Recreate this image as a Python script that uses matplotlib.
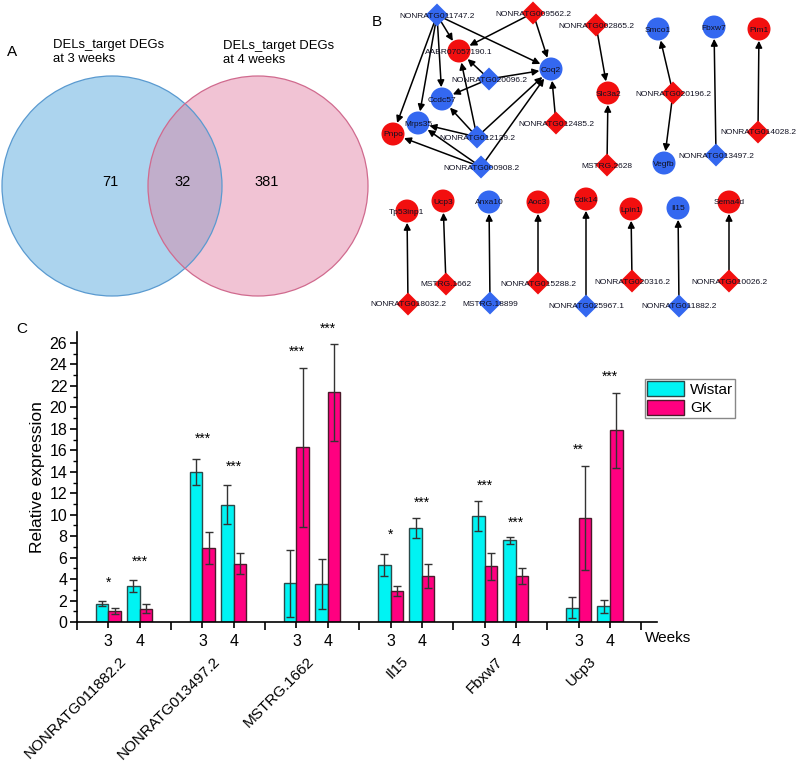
import matplotlib
matplotlib.use('Agg')
import matplotlib.pyplot as plt
from matplotlib.patches import Circle, RegularPolygon, FancyArrowPatch, Patch

plt.rcParams['font.family'] = ['Liberation Sans', 'DejaVu Sans']

# ---- panel A: venn counts
venn_labels = ['DELs_target DEGs\nat 3 weeks', 'DELs_target DEGs\nat 4 weeks']
venn_counts = [71, 32, 381]   # only 3w, both, only 4w

# ---- panel B: network (type, colour, x, y in pixel layout)
net_nodes = {
    'NONRATG011747.2': ('lnc', 'blue', 437, 15),
    'NONRATG009562.2': ('lnc', 'red', 533, 13),
    'AABR07057190.1': ('gene', 'red', 459, 51),
    'Coq2': ('gene', 'blue', 551, 69),
    'NONRATG020096.2': ('lnc', 'blue', 489, 79),
    'Ccdc57': ('gene', 'blue', 442, 99),
    'Mrps35': ('gene', 'blue', 418, 123),
    'Pnpo': ('gene', 'red', 393, 134),
    'NONRATG012139.2': ('lnc', 'blue', 477, 137),
    'NONRATG012485.2': ('lnc', 'red', 556, 123),
    'NONRATG000908.2': ('lnc', 'blue', 481, 167),
    'NONRATG002865.2': ('lnc', 'red', 596, 25),
    'Slc3a2': ('gene', 'red', 608, 93),
    'MSTRG.2628': ('lnc', 'red', 607, 165),
    'Smco1': ('gene', 'blue', 658, 29),
    'NONRATG020196.2': ('lnc', 'red', 673, 93),
    'Vegfb': ('gene', 'blue', 664, 163),
    'Fbxw7': ('gene', 'blue', 714, 27),
    'NONRATG013497.2': ('lnc', 'blue', 716, 155),
    'Pim1': ('gene', 'red', 759, 29),
    'NONRATG014028.2': ('lnc', 'red', 758, 132),
    'Tp53inp1': ('gene', 'red', 407, 211),
    'NONRATG018032.2': ('lnc', 'red', 408, 304),
    'Ucp3': ('gene', 'red', 443, 201),
    'MSTRG.1662': ('lnc', 'red', 446, 284),
    'Anxa10': ('gene', 'blue', 489, 202),
    'MSTRG.18899': ('lnc', 'blue', 490, 303),
    'Aoc3': ('gene', 'red', 538, 202),
    'NONRATG015288.2': ('lnc', 'red', 538, 283),
    'Cdk14': ('gene', 'red', 586, 199),
    'NONRATG025967.1': ('lnc', 'blue', 586, 306),
    'Lpin1': ('gene', 'red', 631, 209),
    'NONRATG020316.2': ('lnc', 'red', 632, 281),
    'Il15': ('gene', 'blue', 678, 208),
    'NONRATG011882.2': ('lnc', 'blue', 679, 306),
    'Sema4d': ('gene', 'red', 729, 202),
    'NONRATG010026.2': ('lnc', 'red', 729, 281),
}
net_edges = [
    ('NONRATG011747.2', 'AABR07057190.1'), ('NONRATG011747.2', 'Coq2'),
    ('NONRATG011747.2', 'Ccdc57'), ('NONRATG011747.2', 'Mrps35'),
    ('NONRATG011747.2', 'Pnpo'),
    ('NONRATG009562.2', 'AABR07057190.1'), ('NONRATG009562.2', 'Coq2'),
    ('NONRATG020096.2', 'AABR07057190.1'), ('NONRATG020096.2', 'Coq2'),
    ('NONRATG020096.2', 'Ccdc57'),
    ('NONRATG012139.2', 'AABR07057190.1'), ('NONRATG012139.2', 'Coq2'),
    ('NONRATG012139.2', 'Ccdc57'), ('NONRATG012139.2', 'Mrps35'),
    ('NONRATG012485.2', 'Coq2'),
    ('NONRATG000908.2', 'Coq2'), ('NONRATG000908.2', 'Mrps35'),
    ('NONRATG000908.2', 'Pnpo'),
    ('NONRATG002865.2', 'Slc3a2'), ('MSTRG.2628', 'Slc3a2'),
    ('NONRATG020196.2', 'Smco1'), ('NONRATG020196.2', 'Vegfb'),
    ('NONRATG013497.2', 'Fbxw7'), ('NONRATG014028.2', 'Pim1'),
    ('NONRATG018032.2', 'Tp53inp1'), ('MSTRG.1662', 'Ucp3'),
    ('MSTRG.18899', 'Anxa10'), ('NONRATG015288.2', 'Aoc3'),
    ('NONRATG025967.1', 'Cdk14'), ('NONRATG020316.2', 'Lpin1'),
    ('NONRATG011882.2', 'Il15'), ('NONRATG010026.2', 'Sema4d'),
]
node_colors = {'red': '#f20f0f', 'blue': '#3468f0'}

# ---- panel C: qPCR
genes = ['NONRATG011882.2', 'NONRATG013497.2', 'MSTRG.1662', 'Il15', 'Fbxw7', 'Ucp3']
weeks = ['3', '4']
wistar_mean = [1.72, 3.35, 14.0, 10.95, 3.6, 3.55, 5.3, 8.75, 9.85, 7.6, 1.35, 1.45]
wistar_err = [0.22, 0.6, 1.2, 1.85, 3.1, 2.35, 1.0, 0.95, 1.4, 0.35, 1.0, 0.62]
gk_mean = [1.0, 1.25, 6.9, 5.43, 16.27, 21.4, 2.9, 4.3, 5.2, 4.25, 9.72, 17.86]
gk_err = [0.27, 0.45, 1.5, 1.0, 7.4, 4.5, 0.45, 1.15, 1.27, 0.75, 4.85, 3.5]
stars = ['*', '***', '***', '***', '***', '***', '*', '***', '***', '***', '**', '***']
star_y = [3.7, 5.6, 17.1, 14.5, 25.2, 27.3, 8.1, 11.1, 12.7, 9.25, 16.05, 22.9]

W, H = 797, 762
fig = plt.figure(figsize=(W / 100, H / 100), dpi=100)

# overlay axes in pixel coordinates for panels A and B
ov = fig.add_axes([0, 0, 1, 1])
ov.set_xlim(0, W)
ov.set_ylim(H, 0)
ov.axis('off')

# venn
c3 = Circle((112, 186), 110, facecolor='#acd4ee', edgecolor='none')
c4 = Circle((258, 186), 110, facecolor='#f1c3d4', edgecolor='none')
ov.add_patch(c3)
ov.add_patch(c4)
both = Circle((258, 186), 110, facecolor='#c1aecb', edgecolor='none')
ov.add_patch(both)
both.set_clip_path(c3)
ov.add_patch(Circle((112, 186), 110, fill=False, edgecolor='#5a9ad0', lw=0.9))
ov.add_patch(Circle((258, 186), 110, fill=False, edgecolor='#d06a8e', lw=0.9))
ov.text(53, 52, venn_labels[0], fontsize=9.4, va='center', ha='left', linespacing=1.15)
ov.text(223, 53, venn_labels[1], fontsize=9.4, va='center', ha='left', linespacing=1.15)
for x, n in zip([110, 183, 267], venn_counts):
    ov.text(x, 182, str(n), fontsize=10.5, ha='center', va='center')
ov.text(7, 52, 'A', fontsize=11, va='center')
ov.text(372, 22, 'B', fontsize=11, va='center')
ov.text(16, 329, 'C', fontsize=11, va='center')

# network
for s, t in net_edges:
    xs, ys = net_nodes[s][2], net_nodes[s][3]
    xt, yt = net_nodes[t][2], net_nodes[t][3]
    ov.add_patch(FancyArrowPatch((xs, ys), (xt, yt), arrowstyle='-|>',
                                 mutation_scale=10, lw=1.1, color='black',
                                 shrinkA=5, shrinkB=8.5, zorder=2))
for name, (kind, col, x, y) in net_nodes.items():
    if kind == 'gene':
        p = Circle((x, y), 11.5, facecolor=node_colors[col], edgecolor='none', zorder=3)
    else:
        p = RegularPolygon((x, y), 4, radius=11.5, facecolor=node_colors[col],
                           edgecolor='none', zorder=3)
    ov.add_patch(p)
    ov.text(x, y + 1, name, fontsize=6, ha='center', va='center', color='#111122', zorder=4)

# bar chart
ax = fig.add_axes([77 / W, 140 / H, 580 / W, 289.7 / H])
xpos = []
for g in range(len(genes)):
    xpos += [g * 3 + 1, g * 3 + 2]
wx = [x - 0.2 for x in xpos]
gx = [x + 0.2 for x in xpos]
ekw = dict(ecolor='#333333', elinewidth=1, capsize=3, capthick=1)
ax.bar(wx, wistar_mean, 0.4, color='#00f3f3', edgecolor='#2a4a4a', lw=1,
       yerr=wistar_err, error_kw=ekw, label='Wistar')
ax.bar(gx, gk_mean, 0.4, color='#ff0080', edgecolor='#4a1a2a', lw=1,
       yerr=gk_err, error_kw=ekw, label='GK')
for x, s, y in zip(xpos, stars, star_y):
    ax.text(x, y, s, ha='center', va='center', fontsize=10, clip_on=False)

ax.set_xlim(0, 18.5)
ax.set_ylim(0, 27)
ax.spines['top'].set_visible(False)
ax.spines['right'].set_visible(False)
ax.spines['left'].set_linewidth(1.2)
ax.spines['bottom'].set_linewidth(1.2)
ax.set_xticks(range(0, 19, 3))
ax.set_xticklabels([])
ax.set_xticks(xpos, minor=True)
ax.set_xticklabels(weeks * len(genes), minor=True, fontsize=11.5)
ax.tick_params(axis='x', which='major', length=6, width=1.2, direction='out')
ax.tick_params(axis='x', which='minor', length=4, width=1.2, direction='out', pad=5)
ax.set_yticks(range(0, 27, 2))
ax.set_yticks(range(0, 27), minor=True)
ax.tick_params(axis='y', which='major', length=5, width=1.2, labelsize=11.5, pad=2)
ax.tick_params(axis='y', which='minor', length=3, width=1)
ax.set_ylabel('Relative expression', fontsize=12.5, labelpad=3)

for g, name in enumerate(genes):
    ax.text(g * 3 + 1.65, -3.0, name, rotation=45, ha='right', va='top',
            fontsize=11, clip_on=False)
fig.text(645 / W, 1 - 638 / H, 'Weeks', fontsize=11, ha='left', va='center')

handles = [Patch(facecolor='#00f3f3', edgecolor='#2a4a4a'),
           Patch(facecolor='#ff0080', edgecolor='#4a1a2a')]
leg = ax.legend(handles, ['Wistar', 'GK'], loc='upper left',
                bbox_to_anchor=(645 / W, 1 - 379 / H), bbox_transform=fig.transFigure,
                borderaxespad=0, fancybox=False, edgecolor='#888888', fontsize=11,
                handlelength=2.4, handleheight=1.1, borderpad=0.15,
                labelspacing=0.2, handletextpad=0.4, framealpha=1)
leg.get_frame().set_linewidth(1)

fig.savefig('out.png', dpi=100)
